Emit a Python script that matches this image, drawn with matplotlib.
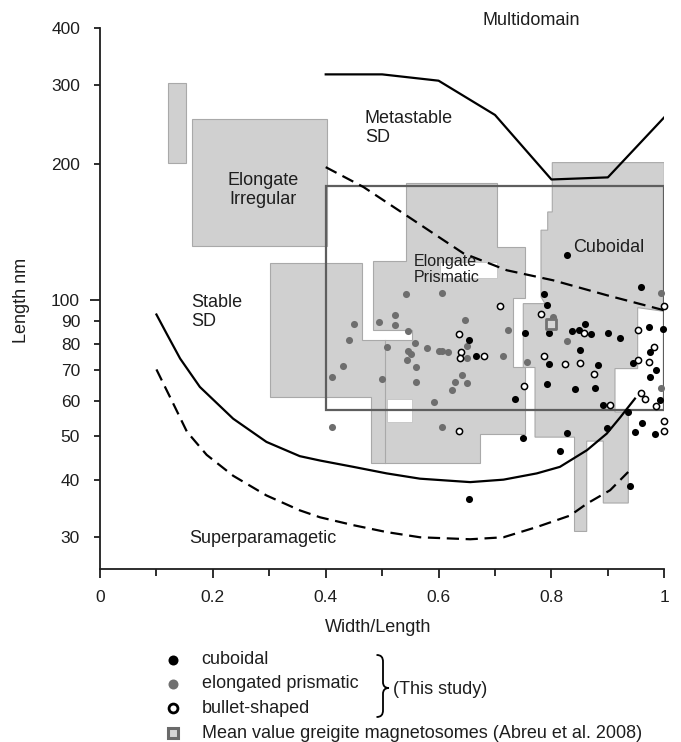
import matplotlib
matplotlib.use('Agg')
import matplotlib.pyplot as plt
from matplotlib.patches import Polygon, Rectangle, PathPatch
from matplotlib.path import Path
from matplotlib.ticker import FixedLocator, FixedFormatter

plt.rcParams['font.family'] = ['Liberation Sans', 'DejaVu Sans']

# ---------------- data ----------------
# cuboidal (black dots)
cub_x = [0.828, 0.958, 0.787, 0.793, 0.754, 0.796, 0.836, 0.849, 0.860, 0.870,
         0.900, 0.922, 0.973, 0.998, 0.654, 0.666, 0.851, 0.796, 0.883, 0.944,
         0.975, 0.985, 0.975, 0.792, 0.842, 0.878, 0.735, 0.891, 0.992, 0.936,
         0.750, 0.827, 0.899, 0.815, 0.960, 0.948, 0.984, 0.654, 0.939]
cub_L = [126.2, 106.8, 103.5, 97.5, 84.5, 84.5, 85.4, 85.8, 88.8, 84.1,
         84.5, 82.7, 87.4, 86.6, 81.7, 75.2, 77.5, 72.1, 72.0, 72.7,
         76.7, 70.0, 67.7, 65.2, 63.6, 64.1, 60.4, 58.8, 60.3, 56.5,
         49.7, 50.8, 52.3, 46.4, 53.4, 51.0, 50.5, 36.3, 38.9]
# elongated prismatic (grey dots)
elo_x = [0.542, 0.606, 0.450, 0.495, 0.523, 0.523, 0.545, 0.646, 0.442, 0.508,
         0.558, 0.580, 0.600, 0.606, 0.616, 0.545, 0.551, 0.544, 0.560, 0.650,
         0.651, 0.723, 0.714, 0.756, 0.431, 0.411, 0.499, 0.560, 0.629, 0.641,
         0.651, 0.624, 0.591, 0.411, 0.606, 0.827, 0.994, 0.994, 0.803]
elo_L = [103.5, 103.8, 88.8, 89.5, 93.0, 88.0, 85.5, 90.6, 81.5, 78.8,
         80.6, 78.6, 77.2, 77.2, 76.7, 77.1, 76.2, 73.9, 71.2, 79.1,
         74.7, 85.8, 75.2, 73.0, 71.4, 67.7, 67.1, 66.0, 66.1, 68.5,
         65.6, 63.4, 59.5, 52.4, 52.4, 81.3, 103.8, 64.1, 91.6]
# bullet-shaped (open circles)
bul_x = [0.709, 0.637, 0.639, 0.638, 0.681, 0.752, 0.637, 0.781, 0.858, 0.787,
         0.824, 0.851, 0.875, 0.904, 0.954, 0.981, 0.973, 0.954, 0.958, 0.966,
         0.986, 1.0, 1.0, 1.0]
bul_L = [97.0, 84.4, 76.9, 74.6, 75.2, 64.5, 51.3, 93.1, 84.8, 75.2,
         72.4, 72.7, 68.6, 58.8, 85.8, 79.0, 73.2, 73.9, 62.4, 60.6,
         58.3, 54.1, 51.3, 97.0]
# mean value greigite magnetosomes (Abreu et al. 2008)
mean_x = [0.80]
mean_L = [88.8]

# boundary curves
md_x = [0.4, 0.5, 0.6, 0.7, 0.8, 0.9, 1.0]
md_L = [316, 316, 306, 257, 185, 187, 254]
msd_x = [0.40, 0.467, 0.538, 0.591, 0.644, 0.721, 0.803, 0.898, 1.0]
msd_L = [197, 178, 155.5, 140.5, 127, 116.5, 110.7, 102.6, 95]
ssd_x = [0.100, 0.118, 0.142, 0.177, 0.236, 0.295, 0.354, 0.39, 0.449, 0.508,
         0.567, 0.656, 0.715, 0.774, 0.815, 0.863, 0.898, 0.922, 0.948]
ssd_L = [93.0, 84.4, 74.3, 64.3, 54.7, 48.6, 45.2, 44.2, 42.8, 41.4,
         40.3, 39.6, 40.1, 41.4, 42.8, 46.6, 50.7, 55.1, 60.6]
sp_x = [0.100, 0.130, 0.154, 0.189, 0.236, 0.295, 0.354, 0.39, 0.449, 0.508,
        0.567, 0.656, 0.715, 0.774, 0.833, 0.863, 0.904, 0.936]
sp_L = [70.3, 59.0, 51.2, 45.5, 40.9, 37.0, 34.3, 33.1, 31.8, 30.7,
        29.9, 29.6, 29.9, 31.5, 33.4, 35.5, 38.0, 41.7]

# shaded morphology regions (width/length, length nm)
reg_small_x = [0.121, 0.152, 0.152, 0.121]
reg_small_L = [200.9, 200.9, 302, 302]
reg_irr_x = [0.163, 0.402, 0.402, 0.163]
reg_irr_L = [131.9, 131.9, 251.4, 251.4]
reg_pris_x = [0.301, 0.4638, 0.4638, 0.5524, 0.5524, 0.4843, 0.4843, 0.5423,
              0.5423, 0.703, 0.703, 0.7531, 0.7531, 0.7324, 0.7324, 0.7531,
              0.7531, 0.6734, 0.6734, 0.4797, 0.4797, 0.301]
reg_pris_L = [120.9, 120.9, 81.5, 81.5, 86.1, 86.1, 122.2, 122.2,
              181.8, 181.8, 131.2, 131.2, 100.9, 100.9, 71.0, 71.0,
              50.7, 50.7, 43.65, 43.65, 61.1, 61.1]
reg_cub_x = [0.8015, 1.0, 1.0, 0.9528, 0.9528, 0.9126, 0.9126, 0.9362, 0.9362,
             0.8919, 0.8919, 0.8625, 0.8625, 0.8409, 0.8409, 0.7709, 0.7709,
             0.7501, 0.7501, 0.7886, 0.7815, 0.7815, 0.7934, 0.7934, 0.8015]
reg_cub_L = [201.6, 201.6, 94.5, 96.3, 70.6, 70.6, 56.6, 56.6, 35.6,
             35.6, 48.8, 48.8, 30.8, 30.8, 49.8, 49.8, 71.0,
             71.0, 98.3, 98.3, 101.7, 142.9, 142.9, 156.8, 156.8]
holes_x = [(0.6025, 0.703), (0.5081, 0.5524)]
holes_L = [(111.9, 121.4), (53.8, 60.4)]
inner_line_x = [0.505, 0.505]
inner_line_L = [81.5, 43.65]
frame_x = (0.4, 1.0)
frame_L = (57.3, 178.7)

x_ticks_major = [0, 0.2, 0.4, 0.6, 0.8, 1.0]
x_ticklabels = ['0', '0.2', '0.4', '0.6', '0.8', '1']
x_ticks_minor = [0.1, 0.3, 0.5, 0.7, 0.9]
y_ticks_major = [100]
y_ticks_minor = [30, 40, 50, 60, 70, 80, 90, 200, 300, 400]

# ---------------- figure ----------------
W, H = 681, 742
fig = plt.figure(figsize=(W / 100, H / 100), dpi=100)
ax = fig.add_axes([100 / W, (H - 569.3) / H, 564.3 / W, 541.2 / H])
ax.set_yscale('log')
ax.set_xlim(0, 1)
ax.set_ylim(25.4, 400)

fill = '#d0d0d0'
edge = '#a9a9a9'
for xs, Ls in [(reg_small_x, reg_small_L), (reg_irr_x, reg_irr_L),
               (reg_pris_x, reg_pris_L), (reg_cub_x, reg_cub_L)]:
    ax.add_patch(Polygon(list(zip(xs, Ls)), closed=True, fc=fill, ec=edge,
                         lw=0.8, zorder=1))
for (x0, x1), (l0, l1) in zip(holes_x, holes_L):
    ax.add_patch(Rectangle((x0, l0), x1 - x0, l1 - l0, fc='white',
                           ec='#c4c4c4', lw=0.6, zorder=1.5))
ax.plot(inner_line_x, inner_line_L, color=edge, lw=0.8, zorder=1.6)

# boundary curves
ax.plot(md_x, md_L, color='black', lw=1.6, zorder=3, solid_joinstyle='round')
ax.plot(msd_x, msd_L, color='black', lw=1.6, dashes=[5.5, 3.0], zorder=3,
        dash_joinstyle='round')
ax.plot(ssd_x, ssd_L, color='black', lw=1.6, zorder=3, solid_joinstyle='round')
ax.plot(sp_x, sp_L, color='black', lw=1.6, dashes=[5.5, 3.0], zorder=3,
        dash_joinstyle='round')

# frame
ax.add_patch(Rectangle((frame_x[0], frame_L[0]), frame_x[1] - frame_x[0],
                       frame_L[1] - frame_L[0], fill=False, ec='#5e5e5e',
                       lw=1.6, zorder=2.5))

# points
ax.scatter(elo_x, elo_L, s=26, c='#6e6e6e', linewidths=0, zorder=5, clip_on=False)
ax.scatter(cub_x, cub_L, s=26, c='black', linewidths=0, zorder=5, clip_on=False)
ax.scatter(bul_x, bul_L, s=20, facecolors='white', edgecolors='black',
           linewidths=1.1, zorder=5, clip_on=False)
ax.scatter(mean_x, mean_L, marker='s', s=55, facecolors='#d6d6d6',
           edgecolors='#727272', linewidths=2.0, zorder=6)

# axes styling
for s in ['top', 'right']:
    ax.spines[s].set_visible(False)
for s in ['left', 'bottom']:
    ax.spines[s].set_linewidth(1.3)
    ax.spines[s].set_color('#1e1e1e')

ax.xaxis.set_major_locator(FixedLocator(x_ticks_major))
ax.xaxis.set_major_formatter(FixedFormatter(x_ticklabels))
ax.xaxis.set_minor_locator(FixedLocator(x_ticks_minor))
ax.yaxis.set_major_locator(FixedLocator(y_ticks_major))
ax.yaxis.set_major_formatter(FixedFormatter([str(v) for v in y_ticks_major]))
ax.yaxis.set_minor_locator(FixedLocator(y_ticks_minor))
ax.yaxis.set_minor_formatter(FixedFormatter([str(v) for v in y_ticks_minor]))

ax.tick_params(axis='x', which='major', direction='out', length=6.5, width=1.3,
               pad=8.5, labelsize=12.5, color='#1e1e1e', labelcolor='#1e1e1e')
ax.tick_params(axis='x', which='minor', direction='out', length=4.8, width=1.3,
               color='#1e1e1e')
ax.tick_params(axis='y', which='major', direction='out', length=7.2, width=1.3,
               pad=7.2, labelsize=12.5, color='#1e1e1e', labelcolor='#1e1e1e')
ax.tick_params(axis='y', which='minor', direction='out', length=4.3, width=1.3,
               pad=10.1, labelsize=12.5, color='#1e1e1e', labelcolor='#1e1e1e')

# region labels
tc = '#1e1e1e'
ax.text(0.764, 416, 'Multidomain', ha='center', va='center', fontsize=13, color=tc)
ax.text(0.4696, 240, 'Metastable\nSD', ha='left', va='center', fontsize=13,
        linespacing=1.15, color=tc)
ax.text(0.2894, 175.6, 'Elongate\nIrregular', ha='center', va='center',
        fontsize=13, linespacing=1.15, color=tc)
ax.text(0.1625, 94.1, 'Stable\nSD', ha='left', va='center', fontsize=13,
        linespacing=1.15, color=tc)
ax.text(0.1583, 29.7, 'Superparamagetic', ha='left', va='center', fontsize=13,
        color=tc)
ax.text(0.5553, 116.8, 'Elongate\nPrismatic', ha='left', va='center',
        fontsize=11.5, linespacing=1.1, color=tc, zorder=4)
ax.text(0.8388, 130.5, 'Cuboidal', ha='left', va='center', fontsize=13,
        color=tc, zorder=4)

fig.text(378 / W, 1 - 628 / H, 'Width/Length', ha='center', va='center',
         fontsize=13, color=tc)
fig.text(21.5 / W, 1 - 300 / H, 'Length nm', ha='center', va='center',
         rotation=90, fontsize=13, color=tc)

# legend (overlay in pixel coordinates)
lax = fig.add_axes([0, 0, 1, 1], facecolor='none')
lax.set_xlim(0, W)
lax.set_ylim(H, 0)
lax.axis('off')
mx, tx = 172.7, 201.7
rows = [660, 683.5, 708.3, 733.3]
lax.plot([mx], [rows[0]], 'o', ms=7.2, color='black', mew=0)
lax.plot([mx], [rows[1]], 'o', ms=7.2, color='#707070', mew=0)
lax.plot([mx], [rows[2]], 'o', ms=6.4, mfc='white', mec='black', mew=2.0)
lax.plot([mx], [rows[3]], 's', ms=7.0, mfc='#d6d6d6', mec='#6a6a6a', mew=2.2)
labels = ['cuboidal', 'elongated prismatic', 'bullet-shaped',
          'Mean value greigite magnetosomes (Abreu et al. 2008)']
for y, t in zip(rows, labels):
    lax.text(tx, y, t, ha='left', va='center', fontsize=13, color=tc)

# brace
bx0, bxs, bxt = 376.5, 383.0, 389.0
by0, bym, by1 = 655.0, 688.0, 717.0
verts = [(bx0, by0),
         (bx0 + 4.5, by0), (bxs, by0 + 2), (bxs, by0 + 7),
         (bxs, bym - 6),
         (bxs, bym - 2), (bxs + 2, bym), (bxt, bym),
         (bxs + 2, bym), (bxs, bym + 2), (bxs, bym + 6),
         (bxs, by1 - 7),
         (bxs, by1 - 2), (bx0 + 4.5, by1), (bx0, by1)]
codes = [Path.MOVETO,
         Path.CURVE4, Path.CURVE4, Path.CURVE4,
         Path.LINETO,
         Path.CURVE4, Path.CURVE4, Path.CURVE4,
         Path.CURVE4, Path.CURVE4, Path.CURVE4,
         Path.LINETO,
         Path.CURVE4, Path.CURVE4, Path.CURVE4]
lax.add_patch(PathPatch(Path(verts, codes), fill=False, lw=1.3, ec='black'))
lax.text(393.3, 690, '(This study)', ha='left', va='center', fontsize=13, color=tc)

fig.savefig('out.png', dpi=100)
